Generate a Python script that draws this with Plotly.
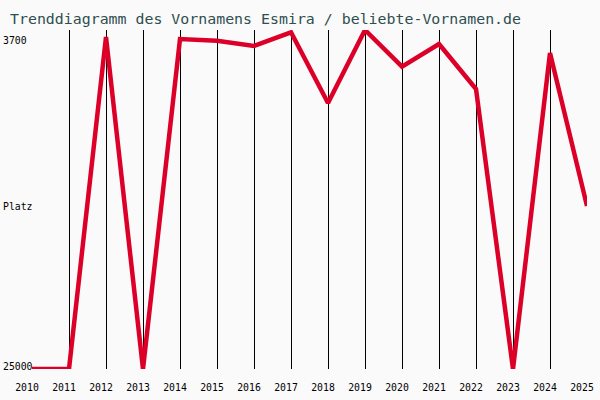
import plotly.graph_objects as go

years = list(range(2010, 2026))
ranks = [25000, 25000, 4140, 25000, 4265, 4372, 4705, 3845, 8287, 3700,
         6006, 4580, 7407, 25000, 5145, 14758]
title = "Trenddiagramm des Vornamens Esmira / beliebte-Vornamen.de"
y_labels = ["3700", "Platz", "25000"]
y_label_pos = [0.9676, 0.478, 0.006]

W, H = 600, 400
L, R, T, B = 32, 13, 30, 31
pw = W - L - R

fig = go.Figure()
fig.add_trace(go.Scatter(x=years, y=ranks, mode="lines",
                         line=dict(color="#dc0029", width=4.5),
                         hoverinfo="skip"))

font = "DejaVu Sans Mono, monospace"
for txt, yp in zip(y_labels, y_label_pos):
    fig.add_annotation(text=txt, xref="paper", yref="paper",
                       x=-(L - 0.5) / pw, y=yp, xanchor="left", yanchor="middle",
                       showarrow=False, font=dict(family=font, size=9.8, color="black"))

fig.update_layout(
    width=W, height=H,
    margin=dict(l=L, r=R, t=T, b=B),
    paper_bgcolor="#fafafa", plot_bgcolor="#fafafa",
    showlegend=False,
    title=dict(text=title, x=10 / W, xanchor="left", y=1 - 18.5 / H, yanchor="middle",
               font=dict(family=font, size=14.9, color="#2f4f4f")),
    xaxis=dict(range=[2010, 2025], tickvals=years, ticktext=[str(y) for y in years],
               showgrid=True, gridcolor="black", gridwidth=1, zeroline=False,
               showline=False, ticks="", ticklabelshift=-5, ticklabelstandoff=11,
               automargin=False,
               tickfont=dict(family=font, size=9.8, color="black")),
    yaxis=dict(range=[25000, 3700], showgrid=False, zeroline=False, automargin=False,
               showticklabels=False, showline=False, ticks=""),
)
fig.write_html("out.html", config={"displayModeBar": False},
               post_script="document.body.style.margin='0';document.body.style.background='#fafafa';")
